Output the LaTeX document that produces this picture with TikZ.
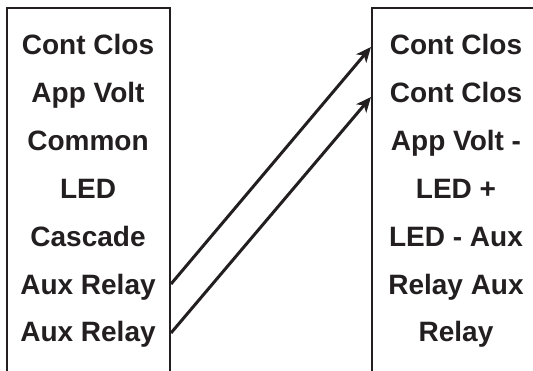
\documentclass[tikz,border=0pt]{standalone}
\usepackage{fontspec}
\setmainfont{Liberation Sans}
\usetikzlibrary{arrows.meta}
\definecolor{ink}{HTML}{231F20}
\begin{document}
\begin{tikzpicture}[x=1pt,y=-1pt]
		\tikzstyle{every node}=[font=\fontsize{28}{34}\selectfont\bfseries, text=ink, inner sep=0pt, anchor=base]
		\tikzstyle{wire}=[ink, line width=3pt, -{Stealth[length=15pt,width=13pt,inset=4pt]}]
		\useasboundingbox (0,0) rectangle (533,371);
		\draw[ink, line width=2.6pt]{(7,371)--(7,8)--(170,8)--(170,371)};
		\draw[ink, line width=2.6pt]{(372,371)--(372,8)--(533,8)};
		\node (left1) at (88,55) {Cont Clos};
		\node (left2) at (88,103) {App Volt};
		\node (left3) at (88,151) {Common};
		\node (left4) at (88,199) {LED};
		\node (left5) at (88,247) {Cascade};
		\node (left6) at (88,295) {Aux Relay};
		\node (left7) at (88,342) {Aux Relay};
		\node (right1) at (456,55) {Cont Clos};
		\node (right2) at (456,103) {Cont Clos};
		\node (right3) at (456,151) {App Volt -};
		\node (right4) at (456,199) {LED +};
		\node (right5) at (456,247) {LED - Aux};
		\node (right6) at (456,295) {Relay Aux};
		\node (right7) at (456,342) {Relay};
		\coordinate (out1) at (171,284);
		\coordinate (out2) at (171,333);
		\coordinate (in1) at (371,47);
		\coordinate (in2) at (371,97);
		\draw[wire]{(out1)--(in1)};
		\draw[wire]{(out2)--(in2)};
	\end{tikzpicture}
\end{document}
